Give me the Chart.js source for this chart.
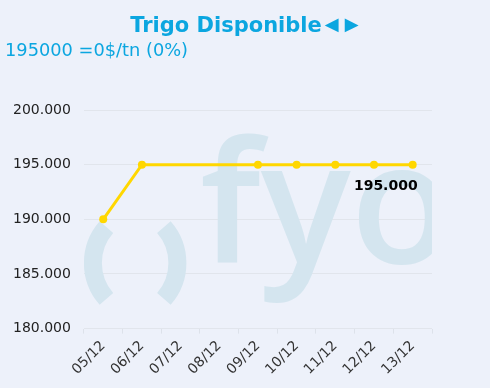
<!DOCTYPE html>
<html>
<head>
<meta charset="utf-8">
<script src="https://cdn.jsdelivr.net/npm/chart.js@4"></script>
<style>
  html, body { margin: 0; padding: 0; background: #edf1fa; }
  #wrap { width: 490px; height: 388px; position: relative; }
</style>
</head>
<body>
<div id="wrap"><canvas id="chart"></canvas></div>
<script>
const labels = ['05/12', '06/12', '07/12', '08/12', '09/12', '10/12', '11/12', '12/12', '13/12'];
const prices = [190000, 195000, null, null, 195000, 195000, 195000, 195000, 195000];
const titleText = 'Trigo Disponible';
const titleArrows = ['\u25C4', '\u25BA'];
const subtitleText = '195000 =0$/tn (0%)';

function fmt(v){
    return String(Math.round(v)).replace(/\B(?=(\d{3})+(?!\d))/g, '.');
}

// faint "( )fyo" logo behind the line
const watermark = {
    id: 'watermark',
    beforeDatasetsDraw(chart){
        const {ctx, chartArea: a} = chart;
        ctx.save();
        ctx.beginPath();
        ctx.rect(a.left, a.top, a.right - a.left, a.bottom - a.top);
        ctx.clip();
        ctx.strokeStyle = '#d4e5ef';
        ctx.fillStyle = '#d4e5ef';
        ctx.lineWidth = 18;
        ctx.lineCap = 'butt';
        const cy = a.top + 153;
        ctx.beginPath();
        ctx.arc(a.left + 63.5, cy, 54.5, Math.PI - 0.72, Math.PI + 0.72);
        ctx.stroke();
        ctx.beginPath();
        ctx.arc(a.left + 39, cy, 54.5, -0.72, 0.72);
        ctx.stroke();
        ctx.font = '600 168px "Open Sans"';
        ctx.textBaseline = 'alphabetic';
        ctx.fillText('fyo', a.left + 116, a.top + 153);
        ctx.restore();
    }
};

// value label under the last point
const lastLabel = {
    id: 'lastLabel',
    afterDatasetsDraw(chart){
        const meta = chart.getDatasetMeta(0);
        const pt = meta.data[meta.data.length - 1];
        const ctx = chart.ctx;
        ctx.save();
        ctx.font = 'bold 14px "DejaVu Sans"';
        ctx.fillStyle = '#000';
        ctx.textAlign = 'right';
        ctx.textBaseline = 'middle';
        ctx.fillText(fmt(prices[prices.length - 1]), pt.x + 5, pt.y + 22);
        ctx.restore();
    }
};

// draw a symbol so its ink box is w wide, centred on (cx, cy)
function drawSymbol(ctx, ch, cx, cy, w){
    ctx.font = '20px "Liberation Sans"';
    let m = ctx.measureText(ch);
    const inkW = m.actualBoundingBoxLeft + m.actualBoundingBoxRight;
    const size = 20 * w / inkW;
    ctx.font = size + 'px "Liberation Sans"';
    m = ctx.measureText(ch);
    const l = m.actualBoundingBoxLeft, r = m.actualBoundingBoxRight;
    const a = m.actualBoundingBoxAscent, d = m.actualBoundingBoxDescent;
    ctx.fillText(ch, cx - (r - l) / 2, cy + (a - d) / 2);
}

// title + subtitle, title centred on the whole canvas
const header = {
    id: 'header',
    afterDraw(chart){
        const ctx = chart.ctx;
        ctx.save();
        ctx.fillStyle = '#0ba6e0';
        ctx.textBaseline = 'alphabetic';
        ctx.font = 'bold 21px "DejaVu Sans"';
        const w1 = ctx.measureText(titleText).width;
        const total = w1 + 38;
        const x = chart.width / 2 - total / 2;
        ctx.fillText(titleText, x, 32);
        drawSymbol(ctx, titleArrows[0], x + w1 + 10, 25, 15);
        drawSymbol(ctx, titleArrows[1], x + w1 + 30, 25, 15);
        ctx.font = '17.8px "DejaVu Sans"';
        ctx.fillText(subtitleText, 5, 56);
        ctx.restore();
    }
};

new Chart(document.getElementById('chart').getContext('2d'), {
    type: 'line',
    data: {
        labels: labels,
        datasets: [{
            data: prices,
            borderColor: '#ffd700',
            backgroundColor: '#ffd700',
            borderWidth: 3,
            pointRadius: 4,
            pointBorderWidth: 0,
            pointHoverRadius: 4,
            tension: 0,
            spanGaps: true
        }]
    },
    plugins: [watermark, lastLabel, header],
    options: {
        responsive: true,
        maintainAspectRatio: false,
        animation: false,
        layout: { padding: { left: 0, right: 58, top: 110, bottom: 6 } },
        plugins: {
            legend: { display: false },
            tooltip: { enabled: false },
            title: { display: false }
        },
        scales: {
            x: {
                offset: true,
                grid: { display: true, drawOnChartArea: false, color: '#dde2ea', tickLength: 5, offset: true },
                border: { display: false },
                ticks: {
                    color: '#333',
                    font: { family: 'DejaVu Sans', size: 14 },
                    maxRotation: 45,
                    minRotation: 45,
                    autoSkip: false,
                    padding: 4
                }
            },
            y: {
                min: 180000,
                max: 200000,
                grid: { color: '#e1e5ec', drawTicks: false },
                border: { display: false },
                ticks: {
                    stepSize: 5000,
                    color: '#222',
                    padding: 13,
                    font: { family: 'DejaVu Sans', size: 14 },
                    callback: v => fmt(v)
                }
            }
        }
    }
});
</script>
</body>
</html>
